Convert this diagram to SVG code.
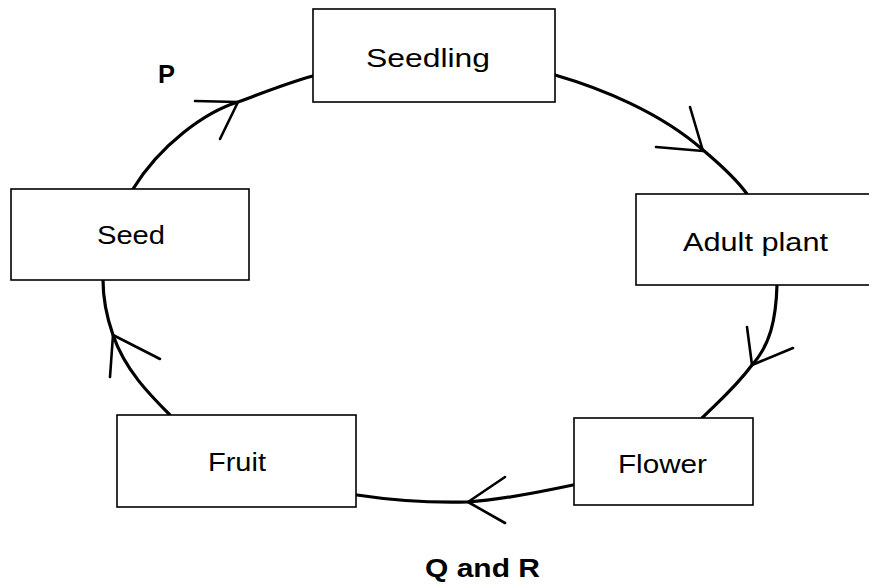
<svg xmlns="http://www.w3.org/2000/svg" width="869" height="584" viewBox="0 0 869 584">
<style>
.box{fill:#fff;stroke:#000;stroke-width:1.6}
.lbl{font-family:"Liberation Sans",Arial,sans-serif;font-size:26px;fill:#000}
.bold{font-weight:bold}
.edge{fill:none;stroke:#000;stroke-width:3.2;stroke-linecap:round;stroke-linejoin:round}
.head{fill:none;stroke:#000;stroke-width:2.6;stroke-linecap:round;stroke-linejoin:round}
</style>
<rect width="869" height="584" fill="#fff"/>
<g id="connectors">
<path class="edge" d="M133,189 C160,145 205,112 238,102 C265,92 290,82 313,76"/>
<path class="head" d="M195,101 L238,102 L220,139"/>
<path class="edge" d="M555,75 C600,88 660,112 703,150 C722,166 737,180 747,194"/>
<path class="head" d="M690,107 L703,151 L656,147"/>
<path class="edge" d="M777,285 C776,320 770,345 752,365 C735,388 718,402 702,418"/>
<path class="head" d="M747,327 L752,365 L793,348"/>
<path class="edge" d="M573,485 C540,492 500,500 468,502 C430,503 390,500 357,495"/>
<path class="head" d="M505,477 L468,502 L505,523"/>
<path class="edge" d="M170,415 C150,395 125,370 113,335 C106,315 103,298 103,280"/>
<path class="head" d="M110,377 L113,335 L160,359"/>
</g>
<g id="seedling">
<rect class="box" x="313" y="9" width="242" height="93"/>
<text class="lbl" x="366" y="67" textLength="124" lengthAdjust="spacingAndGlyphs">Seedling</text>
</g>
<g id="adult-plant">
<rect class="box" x="636" y="194" width="240" height="91"/>
<text class="lbl" x="683" y="251" textLength="145" lengthAdjust="spacingAndGlyphs">Adult plant</text>
</g>
<g id="seed">
<rect class="box" x="11" y="189" width="238" height="91"/>
<text class="lbl" x="97" y="244" textLength="68" lengthAdjust="spacingAndGlyphs">Seed</text>
</g>
<g id="fruit">
<rect class="box" x="117" y="415" width="239" height="92"/>
<text class="lbl" x="208" y="471" textLength="58" lengthAdjust="spacingAndGlyphs">Fruit</text>
</g>
<g id="flower">
<rect class="box" x="574" y="418" width="179" height="87"/>
<text class="lbl" x="618" y="473" textLength="89" lengthAdjust="spacingAndGlyphs">Flower</text>
</g>
<g id="labels">
<text class="lbl bold" x="158" y="83" font-size="22" textLength="17" lengthAdjust="spacingAndGlyphs">P</text>
<text class="lbl bold" x="425" y="577" textLength="115" lengthAdjust="spacingAndGlyphs">Q and R</text>
</g>
</svg>
